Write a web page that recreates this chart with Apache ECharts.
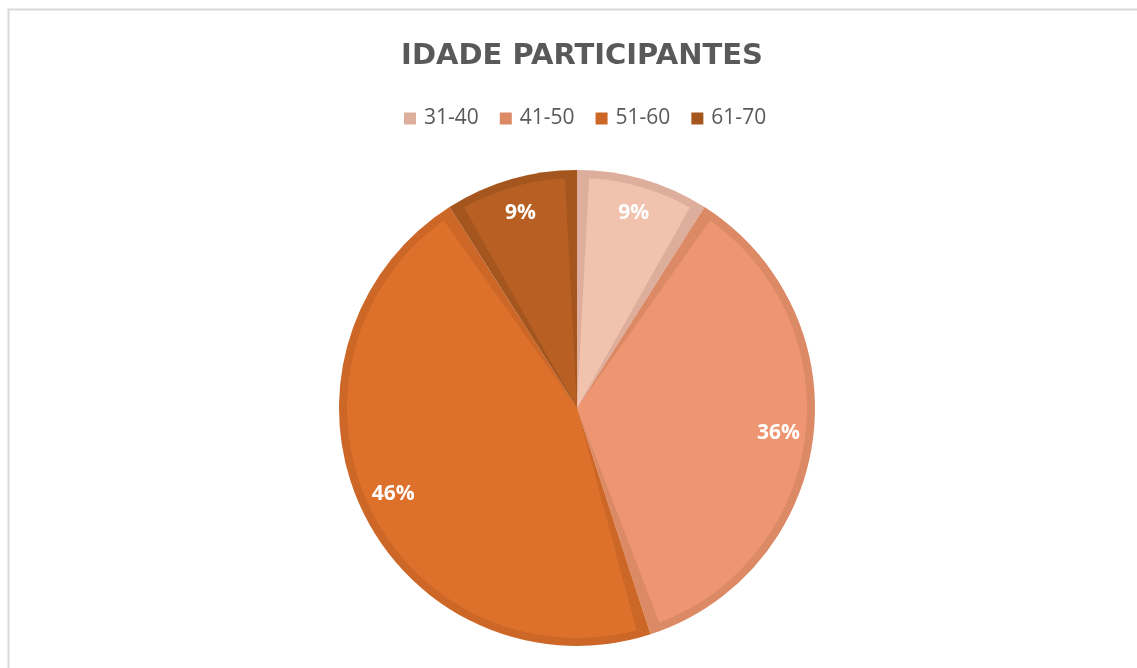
<!DOCTYPE html>
<html>
<head>
<meta charset="utf-8">
<title>Idade participantes</title>
<script src="https://cdn.jsdelivr.net/npm/echarts@6/dist/echarts.min.js"></script>
<style>
	html, body { margin: 0; padding: 0; background: #fff; }
	#chart { width: 1137px; height: 668px; }
</style>
</head>
<body>
<div id="chart"></div>
<script>
// faixas etarias e percentuais
var categorias = ['31-40', '41-50', '51-60', '61-70'];
var valores = [9, 36, 46, 9];

// cores: preenchimento e borda (mais escura)
var coresFill = ['#F1C2AE', '#EE9672', '#DD712B', '#B85F23'];
var coresBorda = ['#DDAE9C', '#DC8966', '#CC6727', '#A5561E'];

var centro = [577, 408];

function montaDados(cores) {
	var arr = [];
	for (var i = 0; i < categorias.length; i++) {
		arr.push({
			name : categorias[i],
			value : valores[i],
			itemStyle : { color : cores[i] }
		});
	}
	return arr;
}

var myChart = echarts.init(document.getElementById('chart'));

var option = {
	backgroundColor : '#fff',
	animation : false,
	title : {
		text : 'IDADE PARTICIPANTES',
		left : 577,
		textAlign : 'center',
		top : 37,
		textStyle : {
			fontFamily : 'DejaVu Sans',
			fontWeight : 'bold',
			fontSize : 29,
			color : '#595959'
		}
	},
	legend : {
		data : categorias,
		top : 103,
		left : 399,
		icon : 'rect',
		itemWidth : 12,
		itemHeight : 12,
		itemGap : 21,
		textStyle : {
			fontFamily : 'Open Sans',
			fontSize : 21,
			color : '#595959',
			padding : [0, 0, 0, 3]
		}
	},
	graphic : [{
		// moldura da area do grafico
		type : 'rect',
		silent : true,
		shape : { x : 8.5, y : 9.5, width : 1200, height : 700 },
		style : { fill : 'none', stroke : '#d9d9d9', lineWidth : 2 }
	}],
	series : [{
		// base com a cor da borda
		name : 'borda',
		type : 'pie',
		center : centro,
		radius : 238,
		startAngle : 90,
		silent : true,
		label : { show : false },
		labelLine : { show : false },
		data : montaDados(coresBorda)
	}, {
		// preenchimento interno
		name : 'fill',
		type : 'pie',
		center : centro,
		radius : 230,
		startAngle : 90,
		padAngle : 6,
		silent : true,
		label : { show : false },
		labelLine : { show : false },
		data : montaDados(coresFill)
	}, {
		// apenas rotulos
		name : 'rotulos',
		type : 'pie',
		center : centro,
		radius : [162, 238],
		startAngle : 90,
		silent : true,
		itemStyle : { color : 'rgba(0,0,0,0)' },
		label : {
			show : true,
			position : 'inside',
			formatter : function(p) {
				return Math.round(p.percent) + '%';
			},
			fontFamily : 'Open Sans',
			fontWeight : 'bold',
			fontSize : 21,
			color : '#fff'
		},
		labelLine : { show : false },
		data : montaDados(['rgba(0,0,0,0)', 'rgba(0,0,0,0)', 'rgba(0,0,0,0)', 'rgba(0,0,0,0)'])
	}]
};

myChart.setOption(option);
</script>
</body>
</html>
